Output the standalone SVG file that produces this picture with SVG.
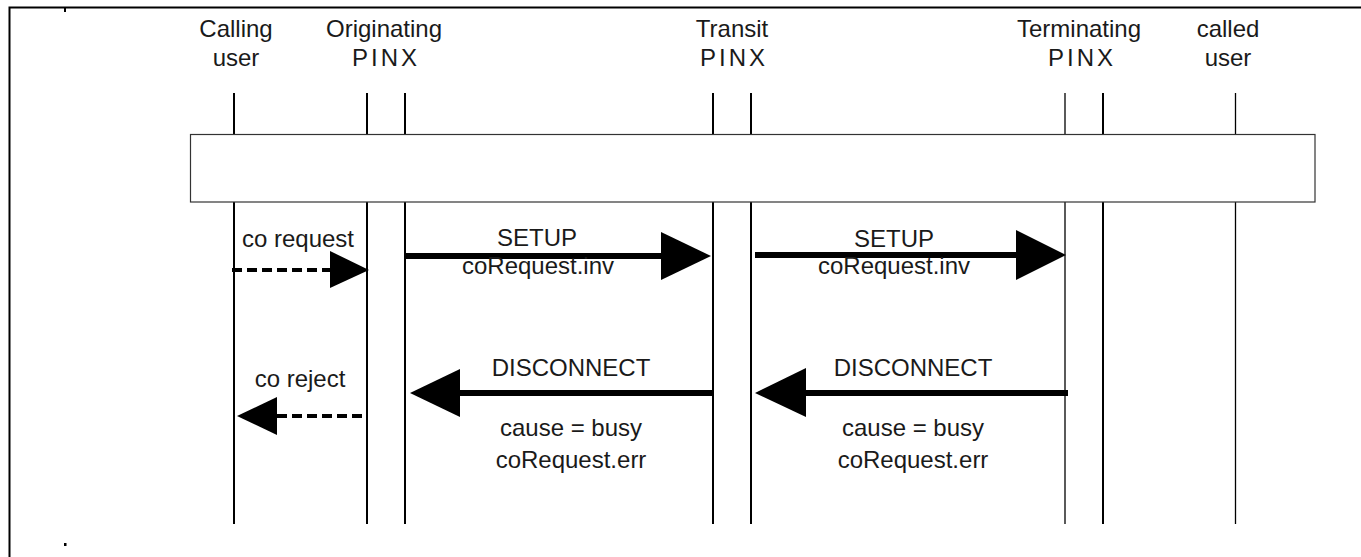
<svg xmlns="http://www.w3.org/2000/svg" width="1361" height="557" viewBox="0 0 1361 557">
<style>
text{font-family:"Liberation Sans",Arial,sans-serif;font-size:24px;fill:#1a1a1a;text-anchor:middle}
.sp{letter-spacing:3px}
.life{stroke:#000;stroke-width:2;fill:none}
.thin{stroke-width:1.3}
.msg{stroke:#000;stroke-width:6;fill:none}
.dash{stroke:#000;stroke-width:4;stroke-dasharray:10 5;fill:none}
.head{fill:#000;stroke:none}
</style>
<rect width="1361" height="557" fill="#fff"/>
<g id="frame">
<path d="M9.5 557V7.5H1361" stroke="#000" stroke-width="2" fill="none"/>
<rect x="64" y="8" width="2" height="4" fill="#000"/>
<rect x="64" y="543" width="2.5" height="3" fill="#000"/>
</g>
<g id="calling-user">
<text x="236" y="37">Calling</text>
<text x="236" y="66">user</text>
<line class="life" x1="234" y1="93" x2="234" y2="524"/>
</g>
<g id="originating-pinx">
<text x="384" y="37">Originating</text>
<text x="386" y="66" class="sp">PINX</text>
<line class="life" x1="367" y1="93" x2="367" y2="524"/>
<line class="life" x1="405" y1="93" x2="405" y2="524"/>
</g>
<g id="transit-pinx">
<text x="732" y="37">Transit</text>
<text x="734" y="66" class="sp">PINX</text>
<line class="life" x1="713" y1="93" x2="713" y2="524"/>
<line class="life" x1="751" y1="93" x2="751" y2="524"/>
</g>
<g id="terminating-pinx">
<text x="1079" y="37">Terminating</text>
<text x="1082" y="66" class="sp">PINX</text>
<line class="life thin" x1="1065" y1="93" x2="1065" y2="524"/>
<line class="life" x1="1103" y1="93" x2="1103" y2="524"/>
</g>
<g id="called-user">
<text x="1228" y="37">called</text>
<text x="1228" y="66">user</text>
<line class="life thin" x1="1235.5" y1="93" x2="1235.5" y2="524"/>
</g>
<g id="box">
<rect x="190.5" y="134.5" width="1124.5" height="67.5" fill="#fff" stroke="#333" stroke-width="1.2"/>
</g>
<g id="connectors">
<line class="dash" x1="232" y1="270" x2="332" y2="270"/>
<polygon class="head" points="330,251 369,270 330,288"/>
<text x="298" y="247">co request</text>
<line class="msg" x1="405" y1="256" x2="662" y2="256"/>
<polygon class="head" points="661,232 711,256 661,280"/>
<text x="537" y="246">SETUP</text>
<text x="538" y="274">coRequest.inv</text>
<line class="msg" x1="755" y1="255" x2="1018" y2="255"/>
<polygon class="head" points="1016,230 1066,255 1016,280"/>
<text x="894" y="247">SETUP</text>
<text x="894" y="274">coRequest.inv</text>
<line class="dash" x1="362" y1="416" x2="275" y2="416"/>
<polygon class="head" points="277,397 237,416 277,435"/>
<text x="300" y="387">co reject</text>
<line class="msg" x1="713" y1="393" x2="458" y2="393"/>
<polygon class="head" points="460,369 410,393 460,417"/>
<text x="571" y="376">DISCONNECT</text>
<text x="571" y="436">cause = busy</text>
<text x="571" y="468">coRequest.err</text>
<line class="msg" x1="1068" y1="393" x2="804" y2="393"/>
<polygon class="head" points="806,368 755,393 806,417"/>
<text x="913" y="376">DISCONNECT</text>
<text x="913" y="436">cause = busy</text>
<text x="913" y="468">coRequest.err</text>
</g>
</svg>
